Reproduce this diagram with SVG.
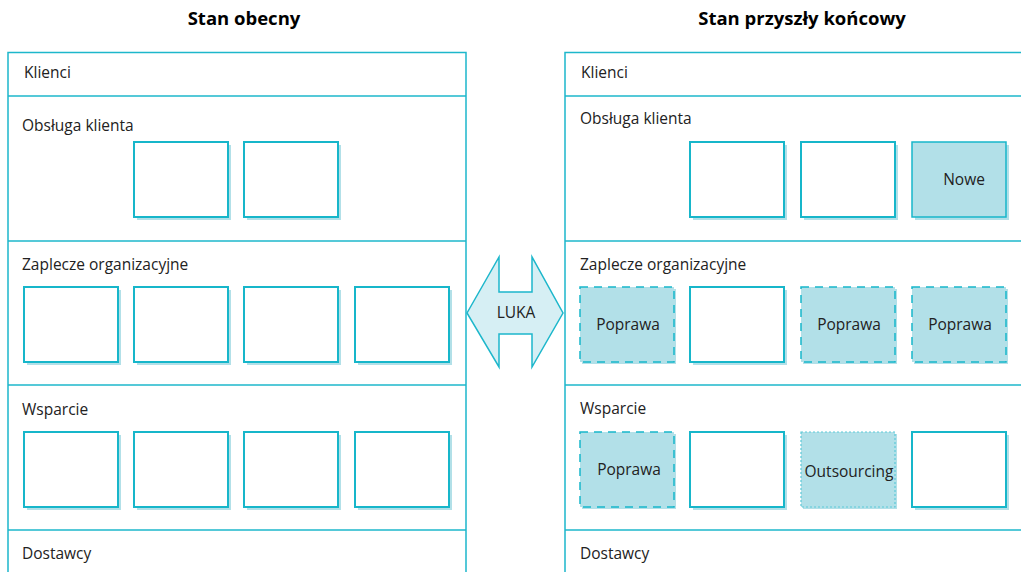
<svg xmlns="http://www.w3.org/2000/svg" width="1021" height="572" viewBox="0 0 1021 572">
  <style>
    .title { font-family: "Open Sans", "Noto Sans", sans-serif; font-weight: bold; font-size: 18.5px; fill: #000; }
    .lane-label { font-family: "Open Sans", "Noto Sans", sans-serif; font-size: 15.5px; fill: #222; }
    .box-label { font-family: "Open Sans", "Noto Sans", sans-serif; font-size: 15.5px; fill: #222; text-anchor: middle; }
    .frame { fill: none; stroke: #1DB7CB; stroke-width: 1.5; }
    .divider { stroke: #1DB7CB; stroke-width: 1.5; }
    .shadow { fill: #B2E0E8; }
    .box { fill: #fff; stroke: #17B6CA; stroke-width: 2; }
    .box-new { fill: #B2E0E8; stroke: #17B6CA; stroke-width: 1.5; }
    .box-fix { fill: #B2E0E8; stroke: #17B6CA; stroke-width: 1.5; stroke-dasharray: 8 6; }
    .box-out { fill: #B2E0E8; stroke: #5CC9D7; stroke-width: 1.2; stroke-dasharray: 2 2; }
    .gap-arrow { fill: #D6EFF4; stroke: #1DB7CB; stroke-width: 1.5; }
  </style>
  <defs>
    <g id="plain">
      <rect class="shadow" x="3" y="3" width="94" height="75"/>
      <rect class="box" x="0" y="0" width="94" height="75"/>
    </g>
    <g id="fix">
      <rect class="shadow" x="2" y="2" width="94" height="75"/>
      <rect class="box-fix" x="0" y="0" width="94" height="75"/>
    </g>
  </defs>

  <rect width="1021" height="572" fill="#fff"/>

  <!-- headings -->
  <text class="title" x="244" y="25" text-anchor="middle">Stan obecny</text>
  <text class="title" x="802" y="25" text-anchor="middle">Stan przyszły końcowy</text>

  <!-- current state swimlanes -->
  <g id="lanes-current">
    <path class="frame" d="M8,580 V52.5 H466 V580"/>
    <line class="divider" x1="8" y1="96" x2="466" y2="96"/>
    <line class="divider" x1="8" y1="241" x2="466" y2="241"/>
    <line class="divider" x1="8" y1="385" x2="466" y2="385"/>
    <line class="divider" x1="8" y1="530" x2="466" y2="530"/>
    <text class="lane-label" x="24" y="78">Klienci</text>
    <text class="lane-label" x="22" y="131">Obsługa klienta</text>
    <text class="lane-label" x="22" y="270">Zaplecze organizacyjne</text>
    <text class="lane-label" x="22" y="415">Wsparcie</text>
    <text class="lane-label" x="22" y="559">Dostawcy</text>
  </g>

  <!-- future state swimlanes -->
  <g id="lanes-future">
    <path class="frame" d="M565,580 V52.5 H1030"/>
    <line class="divider" x1="565" y1="96" x2="1030" y2="96"/>
    <line class="divider" x1="565" y1="241" x2="1030" y2="241"/>
    <line class="divider" x1="565" y1="385" x2="1030" y2="385"/>
    <line class="divider" x1="565" y1="530" x2="1030" y2="530"/>
    <text class="lane-label" x="581" y="78">Klienci</text>
    <text class="lane-label" x="580" y="124">Obsługa klienta</text>
    <text class="lane-label" x="580" y="270">Zaplecze organizacyjne</text>
    <text class="lane-label" x="580" y="414">Wsparcie</text>
    <text class="lane-label" x="580" y="559">Dostawcy</text>
  </g>

  <!-- current state units -->
  <g id="cur-obs-1"><use href="#plain" x="134" y="142"/></g>
  <g id="cur-obs-2"><use href="#plain" x="244" y="142"/></g>
  <g id="cur-zap-1"><use href="#plain" x="24" y="287"/></g>
  <g id="cur-zap-2"><use href="#plain" x="134" y="287"/></g>
  <g id="cur-zap-3"><use href="#plain" x="244" y="287"/></g>
  <g id="cur-zap-4"><use href="#plain" x="355" y="287"/></g>
  <g id="cur-wsp-1"><use href="#plain" x="24" y="432"/></g>
  <g id="cur-wsp-2"><use href="#plain" x="134" y="432"/></g>
  <g id="cur-wsp-3"><use href="#plain" x="244" y="432"/></g>
  <g id="cur-wsp-4"><use href="#plain" x="355" y="432"/></g>

  <!-- gap arrow -->
  <g id="gap">
    <polygon class="gap-arrow" points="467,313 499,257 499,292 532,292 532,257 563,313 532,367 532,334 499,334 499,367"/>
    <text class="box-label" x="516" y="318">LUKA</text>
  </g>

  <!-- future state units -->
  <g id="fut-obs-1"><use href="#plain" x="690" y="142"/></g>
  <g id="fut-obs-2"><use href="#plain" x="801" y="142"/></g>
  <g id="fut-obs-new">
    <rect class="shadow" x="915" y="145" width="94" height="75"/>
    <rect class="box-new" x="912" y="142" width="94" height="75"/>
    <text class="box-label" x="964" y="185">Nowe</text>
  </g>
  <g id="fut-zap-1">
    <use href="#fix" x="580" y="287"/>
    <text class="box-label" x="628" y="330">Poprawa</text>
  </g>
  <g id="fut-zap-2"><use href="#plain" x="690" y="287"/></g>
  <g id="fut-zap-3">
    <use href="#fix" x="801" y="287"/>
    <text class="box-label" x="849" y="330">Poprawa</text>
  </g>
  <g id="fut-zap-4">
    <use href="#fix" x="912" y="287"/>
    <text class="box-label" x="960" y="330">Poprawa</text>
  </g>
  <g id="fut-wsp-1">
    <use href="#fix" x="580" y="432"/>
    <text class="box-label" x="629" y="475">Poprawa</text>
  </g>
  <g id="fut-wsp-2"><use href="#plain" x="690" y="432"/></g>
  <g id="fut-wsp-out">
    <rect class="shadow" x="803" y="434" width="94" height="75"/>
    <rect class="box-out" x="801" y="432" width="94" height="75"/>
    <text class="box-label" x="849" y="477">Outsourcing</text>
  </g>
  <g id="fut-wsp-4"><use href="#plain" x="912" y="432"/></g>
</svg>
